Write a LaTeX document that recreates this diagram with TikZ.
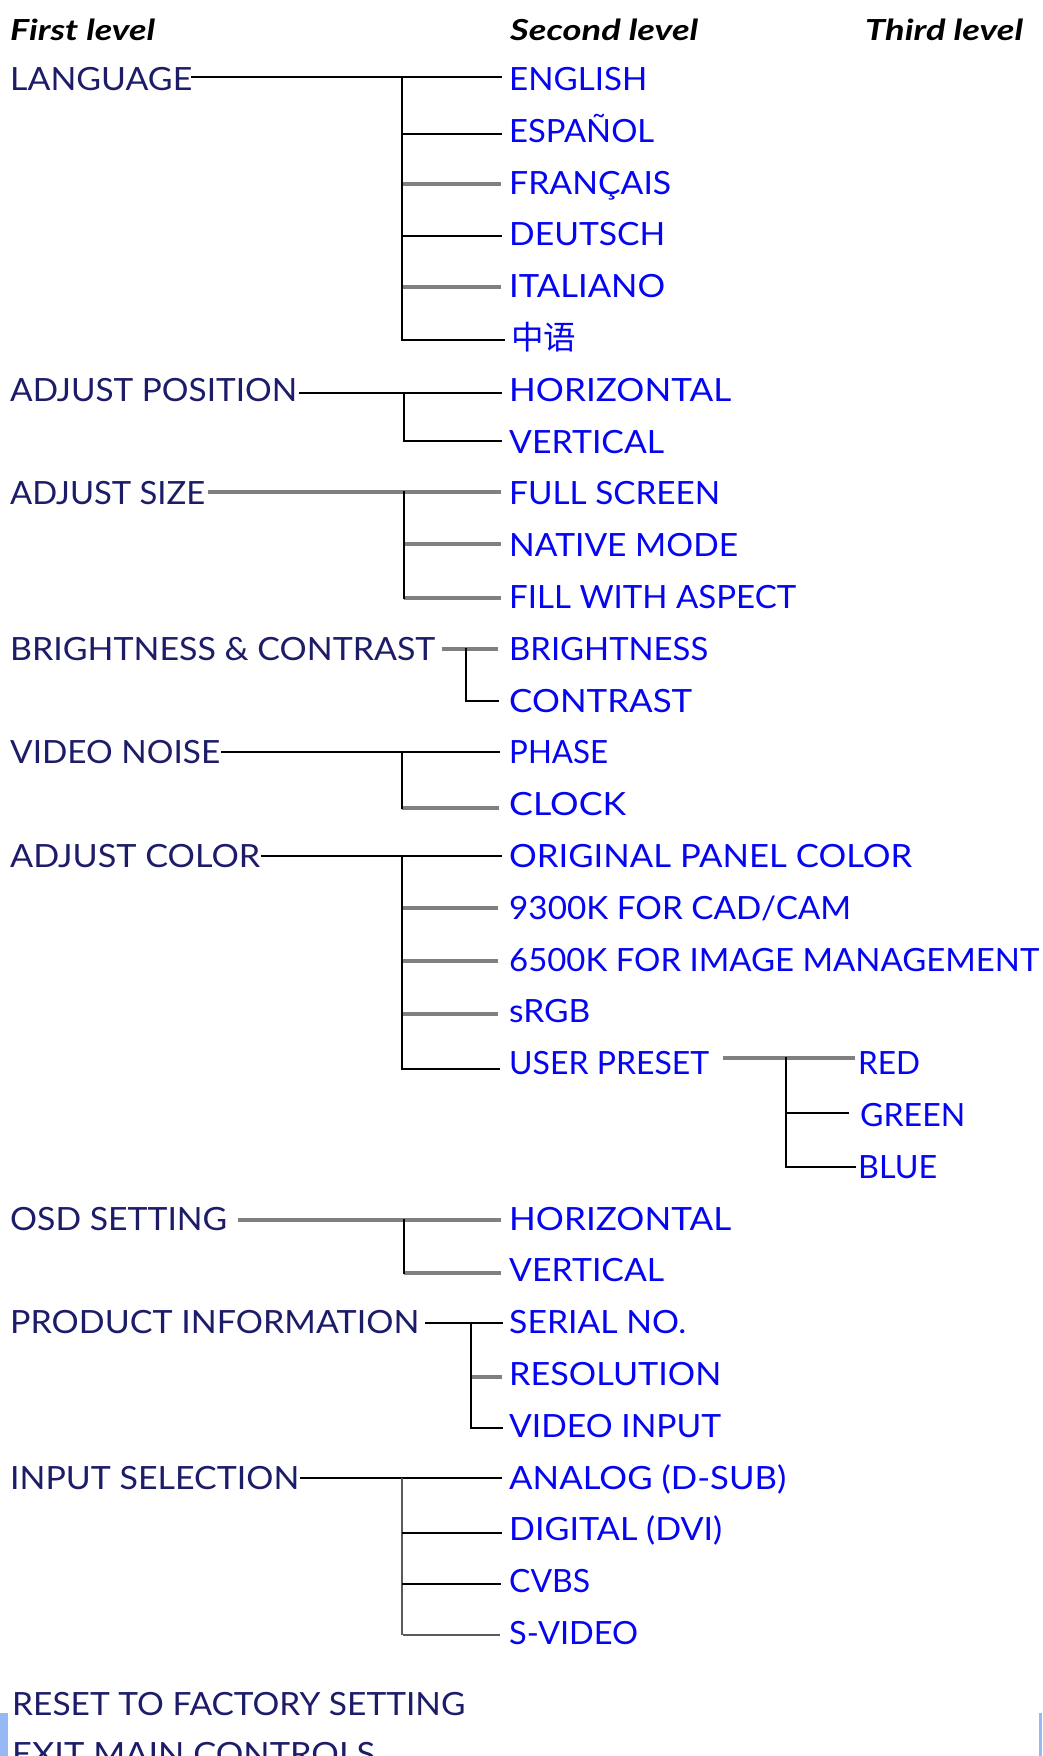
\documentclass[tikz,border=0pt]{standalone}
\usepackage{graphicx}
\usepackage{fontspec}
\setmainfont{Lato}
\newfontfamily\cjkfont{Noto Sans CJK SC}
\usetikzlibrary{calc}
\definecolor{navyc}{RGB}{28,28,105}
\definecolor{bluec}{RGB}{5,5,240}
\definecolor{grayl}{RGB}{128,128,128}
\definecolor{thinl}{RGB}{90,90,90}
\definecolor{barc}{RGB}{150,185,245}
\newcommand{\fitw}[2]{\resizebox{#1pt}{\height}{#2}}
\begin{document}
\begin{tikzpicture}[x=1pt,y=-1pt,
  lv1/.style={anchor=base west,inner sep=0pt,text=navyc,font=\fontsize{32}{32}\selectfont},
  lv2/.style={anchor=base west,inner sep=0pt,text=bluec,font=\fontsize{32}{32}\selectfont},
  hdr/.style={anchor=base west,inner sep=0pt,text=black,font=\fontsize{29}{29}\selectfont\bfseries\itshape},
  blk/.style={draw=black,line width=2pt,line cap=rect},
  gry/.style={draw=grayl,line width=3.2pt},
  thn/.style={draw=thinl,line width=1.3pt}]
\useasboundingbox (0,0) rectangle (1042,1756);
\clip (0,0) rectangle (1042,1756);
\fill[white] (0,0) rectangle (1042,1756);
% bars at bottom
\fill[barc] (0,1713) rectangle (8,1756);
\fill[barc] (1039,1713) rectangle (1042,1756);

% headers
\node[hdr] (h1) at (10,40) {\fitw{145}{First level}};
\node[hdr] (h2) at (510,40) {\fitw{188}{Second level}};
\node[hdr] (h3) at (865,40) {\fitw{158}{Third level}};

% first level
\node[lv1] (f0) at (10,90) {\fitw{182}{LANGUAGE}};
\node[lv1] (f6) at (10,401) {\fitw{287}{ADJUST POSITION}};
\node[lv1] (f8) at (10,504) {\fitw{195}{ADJUST SIZE}};
\node[lv1] (f11) at (10,660) {\fitw{425}{BRIGHTNESS \& CONTRAST}};
\node[lv1] (f13) at (10,763) {\fitw{210}{VIDEO NOISE}};
\node[lv1] (f15) at (10,867) {\fitw{250}{ADJUST COLOR}};
\node[lv1] (f22) at (10,1230) {\fitw{217}{OSD SETTING}};
\node[lv1] (f24) at (10,1333) {\fitw{409}{PRODUCT INFORMATION}};
\node[lv1] (f27) at (10,1489) {\fitw{289}{INPUT SELECTION}};
\node[lv1] (reset) at (12,1715) {\fitw{453}{RESET TO FACTORY SETTING}};
\node[lv1] (exit) at (12,1765) {\fitw{363}{EXIT MAIN CONTROLS}};

% second level
\node[lv2] (c0) at (509,90) {\fitw{138}{ENGLISH}};
\node[lv2] (c1) at (509,142) {\fitw{145}{ESPAÑOL}};
\node[lv2] (c2) at (509,194) {\fitw{162}{FRANÇAIS}};
\node[lv2] (c3) at (509,245) {\fitw{156}{DEUTSCH}};
\node[lv2] (c4) at (509,297) {\fitw{156}{ITALIANO}};
\node[lv2,font=\fontsize{32.5}{32.5}\selectfont\cjkfont] (c5) at (511,349) {中语};
\node[lv2] (c6) at (509,401) {\fitw{222}{HORIZONTAL}};
\node[lv2] (c7) at (509,453) {\fitw{155}{VERTICAL}};
\node[lv2] (c8) at (509,504) {\fitw{211}{FULL SCREEN}};
\node[lv2] (c9) at (509,556) {\fitw{229}{NATIVE MODE}};
\node[lv2] (c10) at (509,608) {\fitw{287}{FILL WITH ASPECT}};
\node[lv2] (c11) at (509,660) {\fitw{199}{BRIGHTNESS}};
\node[lv2] (c12) at (509,712) {\fitw{183}{CONTRAST}};
\node[lv2] (c13) at (509,763) {\fitw{99}{PHASE}};
\node[lv2] (c14) at (509,815) {\fitw{117}{CLOCK}};
\node[lv2] (c15) at (509,867) {\fitw{403}{ORIGINAL PANEL COLOR}};
\node[lv2] (c16) at (509,919) {\fitw{342}{9300K FOR CAD/CAM}};
\node[lv2] (c17) at (509,971) {\fitw{530}{6500K FOR IMAGE MANAGEMENT}};
\node[lv2] (c18) at (509,1022) {\fitw{81}{sRGB}};
\node[lv2] (c19) at (509,1074) {\fitw{200}{USER PRESET}};
\node[lv2] (c22) at (509,1230) {\fitw{222}{HORIZONTAL}};
\node[lv2] (c23) at (509,1281) {\fitw{155}{VERTICAL}};
\node[lv2] (c24) at (509,1333) {\fitw{177}{SERIAL NO.}};
\node[lv2] (c25) at (509,1385) {\fitw{212}{RESOLUTION}};
\node[lv2] (c26) at (509,1437) {\fitw{212}{VIDEO INPUT}};
\node[lv2] (c27) at (509,1489) {\fitw{277}{ANALOG (D-SUB)}};
\node[lv2] (c28) at (509,1540) {\fitw{213}{DIGITAL (DVI)}};
\node[lv2] (c29) at (509,1592) {\fitw{81}{CVBS}};
\node[lv2] (c30) at (509,1644) {\fitw{129}{S-VIDEO}};

% third level
\node[lv2] (d19) at (858,1074) {\fitw{62}{RED}};
\node[lv2] (d20) at (860,1126) {\fitw{105}{GREEN}};
\node[lv2] (d21) at (858,1178) {\fitw{79}{BLUE}};

% ---- LANGUAGE
\coordinate (laT) at (402,77);
\coordinate (laB) at (402,340);
\draw[gry] ($(c2.base west)+(-8,-10)$) -- ++(-99,0);
\draw[gry] ($(c4.base west)+(-8,-10)$) -- ++(-99,0);
\draw[blk] ($(f0.base east)+(0,-13)$) -- ($(c0.base west)+(-8,-13)$);
\draw[blk] (laT) -- (laB);
\draw[blk] ($(c1.base west)+(-8,-8)$) -- ++(-99,0);
\draw[blk] ($(c3.base west)+(-8,-9)$) -- ++(-99,0);
\draw[blk] ($(c5.base west)+(-7,-9)$) -- ++(-102,0);

% ---- ADJUST POSITION
\coordinate (poT) at (404,393);
\coordinate (poB) at (404,441);
\draw[blk] ($(f6.base east)+(3,-8)$) -- ($(c6.base west)+(-8,-8)$);
\draw[blk] (poT) -- (poB);
\draw[blk] ($(c7.base west)+(-8,-12)$) -- ++(-97,0);

% ---- ADJUST SIZE
\coordinate (siT) at (404,492);
\coordinate (siB) at (404,598);
\draw[gry] ($(f8.base east)+(3,-12)$) -- ($(c8.base west)+(-8,-12)$);
\draw[gry] ($(c9.base west)+(-8,-12)$) -- ++(-97,0);
\draw[gry] ($(c10.base west)+(-8,-10)$) -- ++(-97,0);
\draw[blk] (siT) -- (siB);

% ---- BRIGHTNESS & CONTRAST
\coordinate (bcT) at (466,649);
\coordinate (bcB) at (466,701);
\draw[gry] ($(f11.base east)+(7,-11)$) -- ($(c11.base west)+(-11,-11)$);
\draw[blk] (bcT) -- (bcB);
\draw[blk] ($(c12.base west)+(-11,-11)$) -- ++(-32,0);

% ---- VIDEO NOISE
\coordinate (vnT) at (402,752);
\coordinate (vnB) at (402,808);
\draw[blk] ($(f13.base east)+(2,-11)$) -- ($(c13.base west)+(-10,-11)$);
\draw[gry] ($(c14.base west)+(-10,-7)$) -- ++(-97,0);
\draw[blk] (vnT) -- (vnB);

% ---- ADJUST COLOR
\coordinate (acT) at (402,856);
\coordinate (acB) at (402,1069);
\draw[blk] ($(f15.base east)+(2,-11)$) -- ($(c15.base west)+(-8,-11)$);
\draw[gry] ($(c16.base west)+(-11,-11)$) -- ++(-96,0);
\draw[gry] ($(c17.base west)+(-11,-10)$) -- ++(-96,0);
\draw[gry] ($(c18.base west)+(-11,-8)$) -- ++(-96,0);
\draw[blk] (acT) -- (acB);
\draw[blk] ($(c19.base west)+(-10,-5)$) -- ++(-97,0);

% ---- USER PRESET
\coordinate (upT) at (786,1058);
\coordinate (upB) at (786,1167);
\draw[gry] ($(c19.base east)+(14,-16)$) -- ($(d19.base west)+(-3,-16)$);
\draw[blk] (upT) -- (upB);
\draw[blk] ($(d20.base west)+(-12,-13)$) -- ++(-62,0);
\draw[blk] ($(d21.base west)+(-3,-11)$) -- ++(-69,0);

% ---- OSD SETTING
\coordinate (osT) at (404,1220);
\coordinate (osB) at (404,1273);
\draw[gry] ($(f22.base east)+(11,-10)$) -- ($(c22.base west)+(-8,-10)$);
\draw[gry] ($(c23.base west)+(-8,-8)$) -- ++(-97,0);
\draw[blk] (osT) -- (osB);

% ---- PRODUCT INFORMATION
\coordinate (prT) at (471,1323);
\coordinate (prB) at (471,1428);
\draw[blk] ($(f24.base east)+(7,-10)$) -- ($(c24.base west)+(-7,-10)$);
\draw[gry] ($(c25.base west)+(-7,-8)$) -- ++(-31,0);
\draw[blk] (prT) -- (prB);
\draw[blk] ($(c26.base west)+(-7,-9)$) -- ++(-31,0);

% ---- INPUT SELECTION
\coordinate (inT) at (402,1478);
\coordinate (inB) at (402,1635);
\draw[blk] ($(f27.base east)+(2,-11)$) -- ($(c27.base west)+(-8,-11)$);
\draw[thn] (inT) -- (inB);
\draw[blk] ($(c28.base west)+(-8,-7)$) -- ++(-98,0);
\draw[blk] ($(c29.base west)+(-9,-8)$) -- ++(-97,0);
\draw[thn] ($(c30.base west)+(-9,-9)$) -- ++(-97,0);
\end{tikzpicture}
\end{document}
